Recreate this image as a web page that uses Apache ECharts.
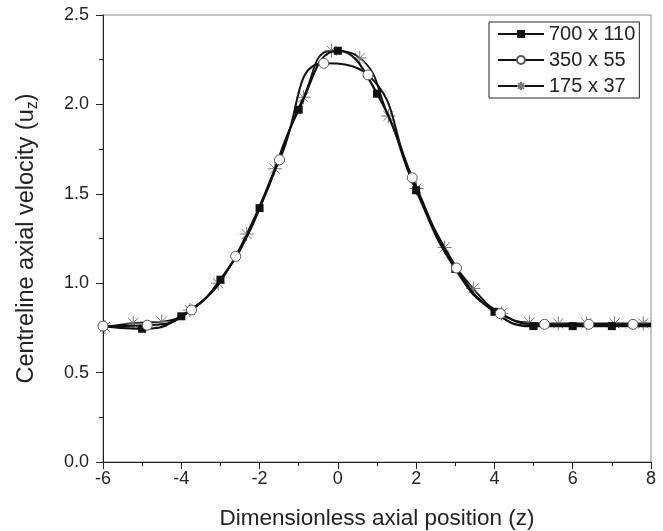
<!DOCTYPE html>
<html>
<head>
<meta charset="utf-8">
<script src="https://cdn.jsdelivr.net/npm/echarts@6/dist/echarts.min.js"></script>
<style>
html,body{margin:0;padding:0;background:#fff;}
#chart{width:663px;height:531px;}
</style>
</head>
<body>
<div id="chart"></div>
<script>
// ---- data ----
var seriesNames = ['700 x 110', '350 x 55', '175 x 37'];

// 700 x 110 (filled squares); first/last points are line ends without a marker
var sqX = [-6, -5, -4, -3, -2, -1, 0, 1, 2, 3, 4, 5, 6, 7, 8];
var sqY = [0.76, 0.745, 0.815, 1.02, 1.42, 1.97, 2.30, 2.06, 1.52, 1.08, 0.84, 0.76, 0.76, 0.76, 0.76];
var sqHidden = [0, 14];

// 350 x 55 (open circles)
var ciX = [-6, -4.87, -3.74, -2.61, -1.49, -0.36, 0.77, 1.90, 3.03, 4.15, 5.28, 6.41, 7.54, 8];
var ciY = [0.76, 0.765, 0.85, 1.15, 1.69, 2.23, 2.165, 1.59, 1.085, 0.83, 0.77, 0.77, 0.77, 0.77];
var ciHidden = [13];

// 175 x 37 (asterisks)
var stX = [-5.95, -5.23, -4.50, -3.78, -3.06, -2.33, -1.61, -0.88, -0.16, 0.56, 1.29, 2.01, 2.73, 3.46, 4.18, 4.90, 5.63, 6.35, 7.07, 7.80, 8];
var stY = [0.755, 0.777, 0.785, 0.85, 1.00, 1.275, 1.64, 2.04, 2.30, 2.26, 1.935, 1.53, 1.20, 0.97, 0.83, 0.78, 0.775, 0.775, 0.775, 0.775, 0.775];
var stHidden = [20];

var xTicks = {min: -6, max: 8, interval: 2};
var yTicks = {min: 0, max: 2.5, interval: 0.5};

function pts(xs, ys, hidden) {
  return xs.map(function (x, i) {
    var p = {value: [x, ys[i]]};
    if (hidden.indexOf(i) >= 0) p.symbol = 'none';
    return p;
  });
}

var starPath = 'path://M0,-1L0,1M-1,0L1,0M-0.72,-0.72L0.72,0.72M-0.72,0.72L0.72,-0.72';
var font = 'Liberation Sans, Arial, sans-serif';

var chart = echarts.init(document.getElementById('chart'), null, {renderer: 'canvas'});
chart.setOption({
  animation: false,
  backgroundColor: '#fff',
  grid: {left: 103, right: 12, top: 15, bottom: 69, show: true, borderColor: '#8a8a8a', borderWidth: 1,
         containLabel: false, outerBoundsMode: 'none'},
  legend: {
    orient: 'vertical',
    left: 489, top: 22,
    padding: [2, 4, 2, 8],
    borderColor: '#222', borderWidth: 1,
    itemWidth: 46, itemHeight: 10, itemGap: 6,
    textStyle: {fontFamily: font, fontSize: 20, lineHeight: 20, color: '#222'},
    data: seriesNames
  },
  xAxis: {
    type: 'value', min: xTicks.min, max: xTicks.max, interval: xTicks.interval,
    name: 'Dimensionless axial position (z)', nameLocation: 'middle', nameGap: 45,
    nameTextStyle: {fontFamily: font, fontSize: 22.5, color: '#222'},
    axisLine: {show: true, onZero: false, lineStyle: {color: '#222', width: 1}},
    axisTick: {show: true, inside: false, length: 7, lineStyle: {color: '#222'}},
    minorTick: {show: true, splitNumber: 2, length: 4, lineStyle: {color: '#222'}},
    axisLabel: {fontFamily: font, fontSize: 18, color: '#222', margin: 8},
    splitLine: {show: false}
  },
  yAxis: {
    type: 'value', min: yTicks.min, max: yTicks.max, interval: yTicks.interval,
    name: 'Centreline axial velocity (u{sub|z})', nameLocation: 'middle', nameGap: 62,
    nameTextStyle: {fontFamily: font, fontSize: 23.5, color: '#222',
      rich: {sub: {fontFamily: font, fontSize: 16, color: '#222', padding: [13, 0, 0, 0]}}},
    axisLine: {show: true, onZero: false, lineStyle: {color: '#222', width: 1}},
    axisTick: {show: true, inside: false, length: 7, lineStyle: {color: '#222'}},
    minorTick: {show: true, splitNumber: 2, length: 4, lineStyle: {color: '#222'}},
    axisLabel: {fontFamily: font, fontSize: 18, color: '#222', margin: 14,
      formatter: function (v) { return v.toFixed(1); }},
    splitLine: {show: false}
  },
  series: [
    {
      name: seriesNames[0], type: 'line', smooth: 0.5, z: 3,
      data: pts(sqX, sqY, sqHidden),
      symbol: 'rect', symbolSize: 8, showAllSymbol: true,
      lineStyle: {color: '#111', width: 2.2},
      itemStyle: {color: '#111', borderColor: '#111', borderWidth: 0}
    },
    {
      name: seriesNames[1], type: 'line', smooth: 0.5, z: 4,
      data: pts(ciX, ciY, ciHidden),
      symbol: 'circle', symbolSize: 10, showAllSymbol: true,
      lineStyle: {color: '#111', width: 2},
      itemStyle: {color: '#fff', borderColor: '#555', borderWidth: 1}
    },
    {
      name: seriesNames[2], type: 'line', smooth: 0.5, z: 2,
      data: pts(stX, stY, stHidden),
      symbol: starPath, symbolSize: 14, showAllSymbol: true,
      lineStyle: {color: '#111', width: 1.8},
      itemStyle: {color: 'rgba(0,0,0,0)', borderColor: '#777', borderWidth: 1}
    }
  ]
});
</script>
</body>
</html>
